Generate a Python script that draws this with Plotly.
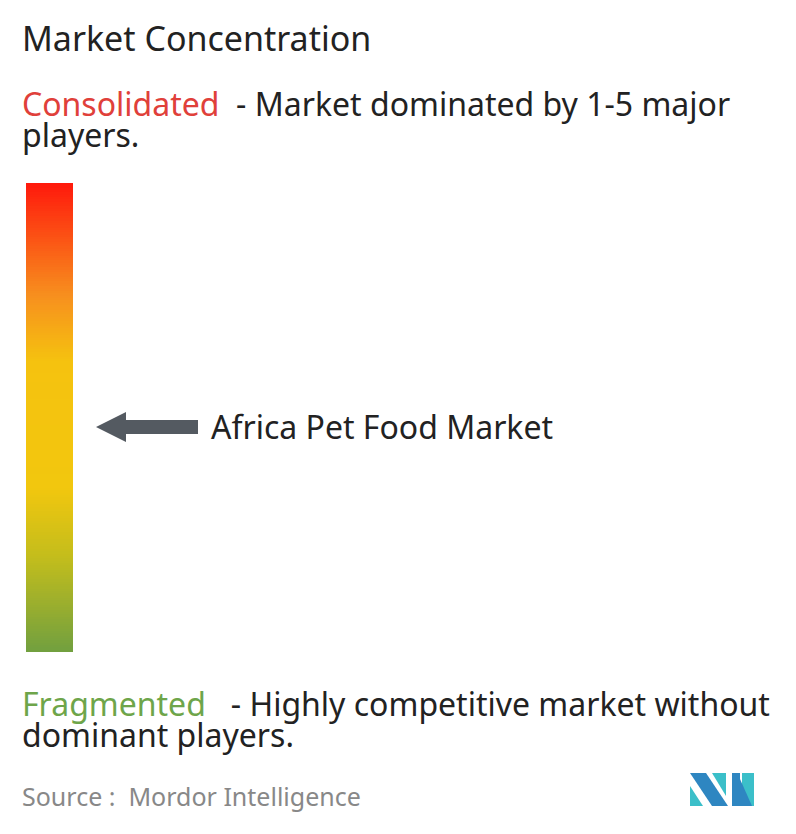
import plotly.graph_objects as go
import numpy as np

title = "Market Concentration"
top_label, top_desc1, top_desc2 = "Consolidated", "  - Market dominated by 1-5 major", "players."
bot_label, bot_desc1, bot_desc2 = "Fragmented", "   - Highly competitive market without", "dominant players."
market_name = "Africa Pet Food Market"
market_level = 0.48   # 0 = fragmented, 1 = consolidated
source = "Source :  Mordor Intelligence"
levels = list(np.linspace(0, 1, 200))
scale = [[0, "#72A03F"], [0.2, "#C3BD1C"], [0.35, "#F2C70E"], [0.62, "#F5C20F"], [0.76, "#F7901E"], [1, "#FF1A0C"]]

W, H = 796, 834
OFF = 8  # page body margin
bar_x0, bar_x1, bar_top, bar_bot = 26, 73, 183, 652

fig = go.Figure()
fig.add_trace(go.Heatmap(z=[[v] for v in levels], x=[bar_x0, bar_x1],
                         y=list(np.linspace(bar_bot, bar_top, len(levels) + 1)),
                         colorscale=scale, showscale=False, hoverinfo="skip"))

ay = bar_bot - market_level * (bar_bot - bar_top)
tip, neck, end = 96, 126, 198
fig.add_shape(type="path", path=f"M {tip} {ay} L {neck} {ay-15} L {neck} {ay-7} L {end} {ay-7} L {end} {ay+7} L {neck} {ay+7} L {neck} {ay+15} Z",
              fillcolor="#545A61", line=dict(width=0), layer="above")

ann = [
    (20, 38, title, 34, "#222"),
    (20, 103, f"<span style='color:#E0403A'>{top_label}</span>{top_desc1}", 32, "#222"),
    (20, 134, top_desc2, 32, "#222"),
    (209, ay, market_name, 32, "#222"),
    (20, 703, f"<span style='color:#6EA54A'>{bot_label}</span>{bot_desc1}", 32, "#222"),
    (20, 734, bot_desc2, 32, "#222"),
    (20, 796, source, 25, "#888"),
]
for x, y, t, s, c in ann:
    fig.add_annotation(x=x, y=y, text=t, showarrow=False, xanchor="left", yanchor="middle",
                       align="left", font=dict(size=s, color=c, family="Noto Sans"))

# logo
for p, col in [("M 690 786 L 690 806 L 703 806 Z", "#3BBFC9"),
               ("M 690 773 L 706 773 L 728 806 L 712 806 Z", "#2E86C1"),
               ("M 712 773 L 726 773 L 726 796 Z", "#3BBFC9"),
               ("M 732 773 L 740 773 L 740 806 L 732 806 Z", "#2E86C1"),
               ("M 742 773 L 754 773 L 754 806 L 742 806 Z", "#3BBFC9"),
               ("M 740 779 L 752 806 L 740 806 Z", "#2E86C1")]:
    fig.add_shape(type="path", path=p, fillcolor=col, line=dict(width=0))

fig.update_xaxes(range=[OFF, W + OFF], visible=False)
fig.update_yaxes(range=[H + OFF, OFF], visible=False)
fig.update_layout(width=W, height=H, margin=dict(l=0, r=0, t=0, b=0),
                  plot_bgcolor="white", paper_bgcolor="white")
fig.write_html("out.html")
